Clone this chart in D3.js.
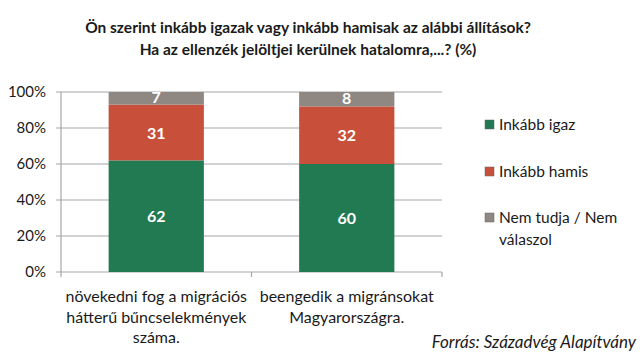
<!DOCTYPE html>
<html><head><meta charset="utf-8">
<script src="https://cdn.jsdelivr.net/npm/d3@7"></script>
<style>body{margin:0;background:#fff}svg{display:block}text{font-family:Lato,"Open Sans",sans-serif}</style>
</head><body><svg id="c" width="644" height="359"></svg>
<script>
const categories = [["növekedni fog a migrációs","hátterű bűncselekmények","száma."],["beengedik a migránsokat","Magyarországra."]];
const seriesNames = ["Inkább igaz","Inkább hamis","Nem tudja / Nem válaszol"];
const igaz = [62, 60];
const hamis = [31, 32];
const nemtudja = [7, 8];
const yTicks = [0, 20, 40, 60, 80, 100];
const titleLines = ["Ön szerint inkább igazak vagy inkább hamisak az alábbi állítások?","Ha az ellenzék jelöltjei kerülnek hatalomra,...? (%)"];
const source = "Forrás: Századvég Alapítvány";
const colors = ["#217a52","#c8503a","#8e8782"];

const svg = d3.select("#c");
const x0 = 61, x1 = 442, yTop = 92, yBot = 272;
const x = d3.scaleBand().domain([0,1]).range([x0,x1]).paddingInner(0).paddingOuter(0);
const y = d3.scaleLinear().domain([0,100]).range([yBot,yTop]);

// title
svg.append("g").selectAll("text").data(titleLines).join("text")
  .attr("x",308).attr("y",(d,i)=>33+i*22).attr("text-anchor","middle")
  .attr("font-weight","bold").attr("font-size",15.5).attr("fill","#1a1a1a").text(d=>d);

// gridlines
svg.append("g").selectAll("line").data(yTicks).join("line")
  .attr("x1",x0-5).attr("x2",x1).attr("y1",d=>y(d)).attr("y2",d=>y(d))
  .attr("stroke","#a6a6a6").attr("stroke-width",1.2);
svg.append("line").attr("x1",x0).attr("x2",x0).attr("y1",yTop).attr("y2",yBot).attr("stroke","#a6a6a6").attr("stroke-width",1.2);
// bottom ticks
svg.append("g").selectAll("line").data([0,1,2]).join("line")
  .attr("x1",d=>x0+d*x.bandwidth()).attr("x2",d=>x0+d*x.bandwidth())
  .attr("y1",yBot).attr("y2",yBot+5).attr("stroke","#a6a6a6").attr("stroke-width",1.2);

// y labels
svg.append("g").selectAll("text").data(yTicks).join("text")
  .attr("x",46).attr("y",d=>y(d)+5).attr("text-anchor","end").attr("font-size",15).attr("fill","#1a1a1a")
  .text(d=>d+"%");

// bars
const series = [igaz, hamis, nemtudja];
const bw = x.bandwidth()*0.5;
[0,1].forEach(ci=>{
  let base = 0;
  series.forEach((s,si)=>{
    const v = s[ci];
    const cx = x(ci)+x.bandwidth()/2;
    svg.append("rect").attr("x",cx-bw/2).attr("width",bw)
      .attr("y",y(base+v)).attr("height",y(base)-y(base+v)).attr("fill",colors[si]);
    svg.append("text").attr("x",cx).attr("y",(y(base)+y(base+v))/2+ (si==2?5:6))
      .attr("text-anchor","middle").attr("font-weight","bold").attr("font-size",16).attr("fill","#fff").text(v);
    base += v;
  });
  svg.append("g").selectAll("text").data(categories[ci]).join("text")
    .attr("x",x(ci)+x.bandwidth()/2).attr("y",(d,i)=>302+i*20.5).attr("text-anchor","middle")
    .attr("font-size",16).attr("fill","#1a1a1a").text(d=>d);
});

// legend
const leg = [{y:125,lines:["Inkább igaz"]},{y:172,lines:["Inkább hamis"]},{y:218,lines:["Nem tudja / Nem","válaszol"]}];
leg.forEach((l,i)=>{
  svg.append("rect").attr("x",485).attr("y",l.y-5).attr("width",9).attr("height",9).attr("fill",colors[i]).attr("stroke","#666").attr("stroke-width",0.5);
  l.lines.forEach((t,j)=>{
    svg.append("text").attr("x",499).attr("y",l.y+5+j*22).attr("font-size",15.5).attr("fill","#1a1a1a").text(j==0?seriesNames[i].split(" / ")[0]+(seriesNames[i].includes(" / ")?" / Nem":""):"válaszol");
  });
});

// source
svg.append("text").attr("x",636).attr("y",348).attr("text-anchor","end").attr("font-style","italic").attr("font-size",17).attr("fill","#1a1a1a").text(source);
</script></body></html>
